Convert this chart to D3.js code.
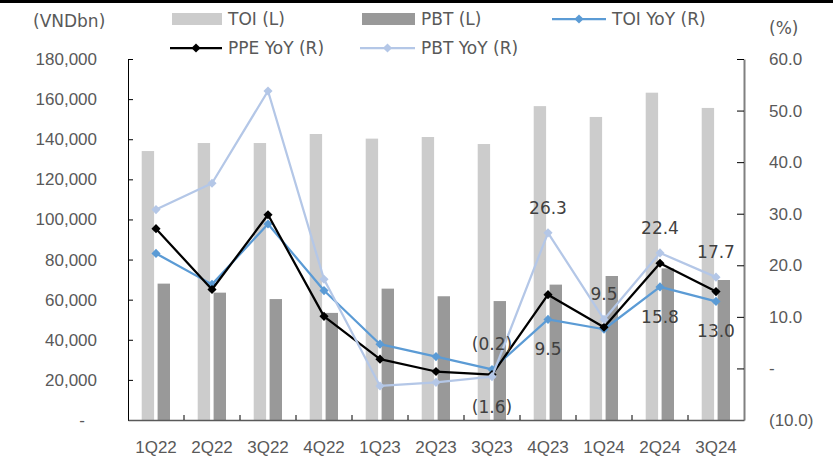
<!DOCTYPE html>
<html>
<head>
<meta charset="utf-8">
<script src="https://cdn.jsdelivr.net/npm/d3@7/dist/d3.min.js"></script>
<style>
  html, body { margin: 0; padding: 0; background: #fff; }
  svg { display: block; font-family: "DejaVu Sans", Verdana, sans-serif; }
</style>
</head>
<body>
<svg id="chart" width="840" height="464"></svg>
<script>
// Quarterly figures: TOI and PBT in VND bn (left axis), growth rates in % (right axis)
const quarters = ['1Q22', '2Q22', '3Q22', '4Q22', '1Q23', '2Q23', '3Q23', '4Q23', '1Q24', '2Q24', '3Q24'];
const toi      = [134100, 138100, 138100, 142600, 140300, 141100, 137600, 156500, 151100, 163200, 155600];
const pbt      = [68000, 63500, 60300, 53400, 65500, 61700, 59300, 67500, 71800, 75600, 69800];
const toiYoy   = [22.3, 16.3, 28.0, 15.1, 4.7, 2.3, -0.2, 9.5, 7.6, 15.8, 13.0];
const ppeYoy   = [27.1, 15.3, 29.8, 10.1, 1.8, -0.6, -1.2, 14.3, 8.0, 20.4, 14.9];
const pbtYoy   = [30.8, 35.9, 53.8, 17.3, -3.4, -2.7, -1.6, 26.3, 9.5, 22.4, 17.7];
const leftTicks  = [0, 20000, 40000, 60000, 80000, 100000, 120000, 140000, 160000, 180000];
const rightTicks = [-10, 0, 10, 20, 30, 40, 50, 60];

// Which points carry a value label, and on which side
const pointLabels = [
  { series: 'toiYoy', i: 6, side: 'above' },
  { series: 'pbtYoy', i: 6, side: 'below' },
  { series: 'pbtYoy', i: 7, side: 'above' },
  { series: 'toiYoy', i: 7, side: 'below' },
  { series: 'pbtYoy', i: 8, side: 'above' },
  { series: 'pbtYoy', i: 9, side: 'above' },
  { series: 'toiYoy', i: 9, side: 'below' },
  { series: 'pbtYoy', i: 10, side: 'above' },
  { series: 'toiYoy', i: 10, side: 'below' }
];

const lineSeries = [
  { key: 'toiYoy', name: 'TOI YoY (R)', values: toiYoy, color: '#5B9BD5' },
  { key: 'ppeYoy', name: 'PPE YoY (R)', values: ppeYoy, color: '#000000' },
  { key: 'pbtYoy', name: 'PBT YoY (R)', values: pbtYoy, color: '#B4C7E7' }
];
const barSeries = [
  { key: 'toi', name: 'TOI (L)', values: toi, color: '#CCCCCC' },
  { key: 'pbt', name: 'PBT (L)', values: pbt, color: '#999999' }
];

const textColor = '#595959';
const fontSize = 17;
const plot = { left: 128, right: 744, top: 59, bottom: 420 };

const svg = d3.select('#chart');

// Heavy rule along the top edge
svg.append('rect').attr('x', 0).attr('y', 0).attr('width', 833).attr('height', 3).attr('fill', '#000');

const x = d3.scaleBand().domain(quarters).range([plot.left, plot.right]);
const xSub = d3.scaleBand().domain(barSeries.map(d => d.key)).range([-14.3, 14]).paddingInner(0.22);
const yL = d3.scaleLinear().domain([0, 180000]).range([plot.bottom, plot.top]);
const yR = d3.scaleLinear().domain([-10, 60]).range([plot.bottom, plot.top]);
const cx = q => x(q) + x.bandwidth() / 2;

// Bars
barSeries.forEach(s => {
  svg.append('g').selectAll('rect').data(s.values).join('rect')
    .attr('x', (d, i) => cx(quarters[i]) + xSub(s.key))
    .attr('width', xSub.bandwidth())
    .attr('y', d => yL(d))
    .attr('height', d => yL(0) - yL(d))
    .attr('fill', s.color);
});

// Axes
const fmtL = d => d === 0 ? '-' : d3.format(',')(d);
const fmtR = d => d === 0 ? '-' : d < 0 ? `(${Math.abs(d).toFixed(1)})` : d.toFixed(1);

const gL = svg.append('g').attr('transform', `translate(${plot.left},0)`)
  .call(d3.axisLeft(yL).tickValues(leftTicks).tickFormat(fmtL).tickSizeInner(-5).tickSizeOuter(0).tickPadding(31));
gL.select('.domain').attr('stroke', '#000');
gL.selectAll('.tick line').attr('stroke', '#000');
gL.selectAll('.tick text').attr('fill', textColor).attr('font-size', fontSize).attr('font-family', null)
  .attr('dx', d => d === 0 ? -12 : 0);

const gR = svg.append('g').attr('transform', `translate(${plot.right},0)`)
  .call(d3.axisRight(yR).tickValues(rightTicks).tickFormat(fmtR).tickSizeInner(-7).tickSizeOuter(0).tickPadding(25));
gR.select('.domain').attr('stroke', '#808080').attr('stroke-width', 2);
gR.selectAll('.tick line').attr('stroke', '#000');
gR.selectAll('.tick text').attr('fill', textColor).attr('font-size', fontSize).attr('font-family', null)
  .attr('text-anchor', 'start');

const gX = svg.append('g').attr('transform', `translate(0,${plot.bottom})`)
  .call(d3.axisBottom(x).tickSize(0).tickPadding(21));
gX.select('.domain').attr('stroke', '#595959').attr('stroke-width', 1.5);
gX.selectAll('.tick text').attr('fill', textColor).attr('font-size', fontSize).attr('font-family', null);
// Category separators pointing up from the baseline
svg.append('g').selectAll('line').data(quarters.slice(1)).join('line')
  .attr('x1', d => x(d)).attr('x2', d => x(d))
  .attr('y1', plot.bottom).attr('y2', plot.bottom - 5)
  .attr('stroke', '#000');

// Lines with diamond markers (squares turned 45°)
const diamond = d3.symbol().type(d3.symbolSquare).size(42);
const lineGen = d3.line().x((d, i) => cx(quarters[i])).y(d => yR(d));
lineSeries.forEach(s => {
  svg.append('path').datum(s.values)
    .attr('d', lineGen).attr('fill', 'none')
    .attr('stroke', s.color).attr('stroke-width', 2.25).attr('stroke-linejoin', 'round');
  svg.append('g').selectAll('path').data(s.values).join('path')
    .attr('d', diamond)
    .attr('transform', (d, i) => `translate(${cx(quarters[i])},${yR(d)}) rotate(45)`)
    .attr('fill', s.color);
});

// Value labels
const byKey = Object.fromEntries(lineSeries.map(s => [s.key, s.values]));
svg.append('g').selectAll('text').data(pointLabels).join('text')
  .attr('x', d => cx(quarters[d.i]))
  .attr('y', d => yR(byKey[d.series][d.i]) + (d.side === 'above' ? -19 : 36))
  .attr('text-anchor', 'middle')
  .attr('font-size', fontSize)
  .attr('fill', '#404040')
  .text(d => fmtR(byKey[d.series][d.i]));

// Unit captions
svg.append('text').attr('x', 33).attr('y', 27).attr('font-size', fontSize).attr('fill', textColor).text('(VNDbn)');
svg.append('text').attr('x', 769).attr('y', 34).attr('font-size', fontSize).attr('fill', textColor).text('(%)');

// Legend
const legend = svg.append('g');
const legendItems = [
  { type: 'bar', s: barSeries[0], x: 172, y: 19, w: 50 },
  { type: 'bar', s: barSeries[1], x: 362, y: 19, w: 53 },
  { type: 'line', s: lineSeries[0], x: 552, y: 19, w: 54 },
  { type: 'line', s: lineSeries[1], x: 170, y: 48, w: 52 },
  { type: 'line', s: lineSeries[2], x: 360, y: 48, w: 55 }
];
legendItems.forEach(it => {
  if (it.type === 'bar') {
    legend.append('rect').attr('x', it.x).attr('y', it.y - 6).attr('width', it.w).attr('height', 12).attr('fill', it.s.color);
  } else {
    legend.append('line').attr('x1', it.x).attr('x2', it.x + it.w).attr('y1', it.y).attr('y2', it.y)
      .attr('stroke', it.s.color).attr('stroke-width', 2.25);
    legend.append('path').attr('d', diamond).attr('transform', `translate(${it.x + it.w / 2},${it.y}) rotate(45)`).attr('fill', it.s.color);
  }
  legend.append('text').attr('x', it.x + it.w + 6).attr('y', it.y + 6)
    .attr('font-size', fontSize).attr('fill', textColor).text(it.s.name);
});
</script>
</body>
</html>
